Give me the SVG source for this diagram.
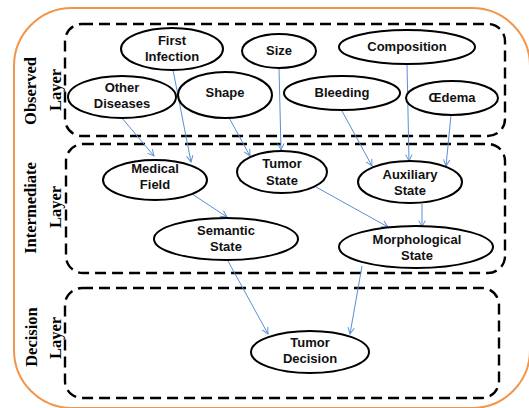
<svg xmlns="http://www.w3.org/2000/svg" width="529" height="408" viewBox="0 0 529 408">
<defs>
<style>
.layer{fill:none;stroke:#000;stroke-width:2.4;stroke-dasharray:11 6}
.lbl{font-family:"Liberation Serif","Times New Roman",serif;font-weight:bold;font-size:16.5px;fill:#000;text-anchor:middle}
.node ellipse{fill:#fff;stroke:#000;stroke-width:2}
.node text{font-family:"Liberation Sans",Arial,sans-serif;font-weight:bold;font-size:13px;fill:#111;text-anchor:middle}
.edge{stroke:#5b8fd4;stroke-width:1;fill:none;marker-end:url(#arr)}
</style>
<marker id="arr" viewBox="0 0 10 10" refX="9" refY="5" markerWidth="8" markerHeight="8" orient="auto" markerUnits="userSpaceOnUse">
<polyline points="1,1 9,5 1,9" fill="none" stroke="#5b8fd4" stroke-width="1.2"/>
</marker>
</defs>
<rect x="14" y="8" width="516" height="400" rx="58" fill="#fff" stroke="#f0954a" stroke-width="2"/>
<g id="layers">
<rect class="layer" x="65" y="24" width="440" height="112" rx="17"/>
<rect class="layer" x="66" y="144" width="439" height="129" rx="17"/>
<rect class="layer" x="65" y="288" width="434" height="110" rx="17"/>
<text class="lbl" transform="translate(36,91) rotate(-90)">Observed</text>
<text class="lbl" transform="translate(61,90) rotate(-90)">Layer</text>
<text class="lbl" transform="translate(36,208) rotate(-90)">Intermediate</text>
<text class="lbl" transform="translate(61,207) rotate(-90)">Layer</text>
<text class="lbl" transform="translate(37,337) rotate(-90)">Decision</text>
<text class="lbl" transform="translate(61,338) rotate(-90)">Layer</text>
</g>
<g id="connectors">
<line class="edge" x1="122" y1="118" x2="154" y2="156"/>
<line class="edge" x1="173" y1="70" x2="191" y2="162"/>
<line class="edge" x1="227" y1="114" x2="250" y2="156"/>
<line class="edge" x1="279" y1="68" x2="281" y2="150"/>
<line class="edge" x1="342" y1="111" x2="372" y2="166"/>
<line class="edge" x1="407" y1="64" x2="409" y2="161"/>
<line class="edge" x1="451" y1="115" x2="446" y2="166"/>
<line class="edge" x1="192" y1="194" x2="227" y2="217"/>
<line class="edge" x1="316" y1="187" x2="388" y2="227"/>
<line class="edge" x1="422" y1="204" x2="422" y2="227"/>
<line class="edge" x1="228" y1="261" x2="268" y2="334"/>
<line class="edge" x1="362" y1="266" x2="350" y2="334"/>
</g>
<g id="first-infection" class="node"><ellipse cx="172" cy="49" rx="51" ry="21"/><text x="172" y="45">First</text><text x="172" y="61">Infection</text></g>
<g id="size" class="node"><ellipse cx="279" cy="51" rx="37" ry="17"/><text x="279" y="55">Size</text></g>
<g id="composition" class="node"><ellipse cx="407" cy="47" rx="68" ry="17"/><text x="407" y="51">Composition</text></g>
<g id="other-diseases" class="node"><ellipse cx="122" cy="97" rx="54" ry="21"/><text x="122" y="92">Other</text><text x="122" y="108">Diseases</text></g>
<g id="shape" class="node"><ellipse cx="225" cy="95" rx="47" ry="23"/><text x="225" y="97">Shape</text></g>
<g id="bleeding" class="node"><ellipse cx="342" cy="93" rx="58" ry="17"/><text x="342" y="97">Bleeding</text></g>
<g id="oedema" class="node"><ellipse cx="452" cy="98" rx="46" ry="17"/><text x="452" y="102">Œdema</text></g>
<g id="medical-field" class="node"><ellipse cx="155" cy="180" rx="52" ry="20"/><text x="155" y="173">Medical</text><text x="155" y="189">Field</text></g>
<g id="tumor-state" class="node"><ellipse cx="282" cy="172" rx="45" ry="21"/><text x="282" y="168">Tumor</text><text x="282" y="185">State</text></g>
<g id="auxiliary-state" class="node"><ellipse cx="410" cy="182" rx="52" ry="21"/><text x="410" y="179">Auxiliary</text><text x="410" y="195">State</text></g>
<g id="semantic-state" class="node"><ellipse cx="226" cy="239" rx="72" ry="21"/><text x="226" y="235">Semantic</text><text x="226" y="251">State</text></g>
<g id="morphological-state" class="node"><ellipse cx="416" cy="247" rx="77" ry="21"/><text x="417" y="244">Morphological</text><text x="417" y="260">State</text></g>
<g id="tumor-decision" class="node"><ellipse cx="310" cy="352" rx="59" ry="21"/><text x="310" y="347">Tumor</text><text x="310" y="363">Decision</text></g>
</svg>
